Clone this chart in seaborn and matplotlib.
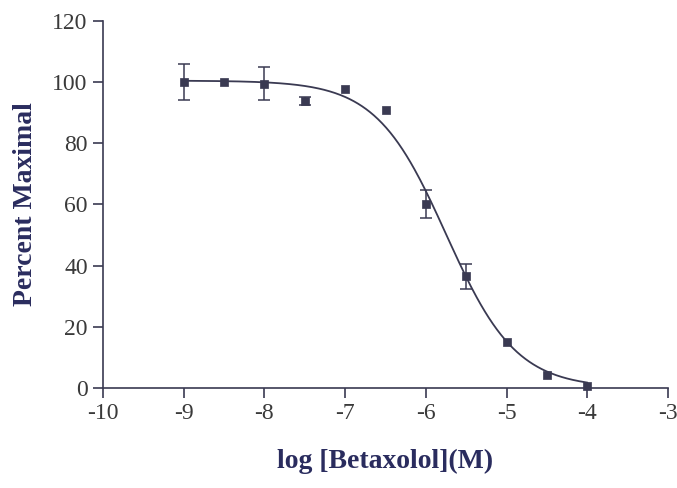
import numpy as np
import matplotlib
matplotlib.use("Agg")
import matplotlib.pyplot as plt
import seaborn as sns
import pandas as pd

sns.set_theme(style="ticks")
plt.rcParams["font.family"] = ["Liberation Serif", "DejaVu Serif"]

# Betaxolol concentration-response data
log_conc = [-9.0, -8.5, -8.0, -7.5, -7.0, -6.5, -6.0, -5.5, -5.0, -4.5, -4.0]
percent_max = [100.0, 100.0, 99.5, 93.8, 97.8, 90.9, 60.2, 36.5, 15.0, 4.2, 0.5]
sem = [6.0, 0.0, 5.5, 1.2, 0.0, 0.0, 4.5, 4.0, 0.0, 0.0, 0.0]

# Four-parameter logistic fit parameters
fit_top = 100.5
fit_bottom = 0.0
fit_log_ic50 = -5.75
fit_hill = 1.0

x_ticks = [-10, -9, -8, -7, -6, -5, -4, -3]
y_ticks = [0, 20, 40, 60, 80, 100, 120]

ink = "#3a3a52"
label_color = "#2a2c5e"

df = pd.DataFrame({"logc": log_conc, "resp": percent_max, "sem": sem})
xc = np.linspace(-9.0, -4.0, 300)
yc = fit_bottom + (fit_top - fit_bottom) / (1 + 10 ** ((xc - fit_log_ic50) * fit_hill))
curve = pd.DataFrame({"logc": xc, "resp": yc})

fig = plt.figure(figsize=(6.77, 4.88), dpi=100)
ax = fig.add_axes([0.152, 0.205, 0.835, 0.752])

sns.lineplot(data=curve, x="logc", y="resp", ax=ax, color=ink, linewidth=1.3)
err = df[df["sem"] > 0]
ax.errorbar(err["logc"], err["resp"], yerr=err["sem"], fmt="none", ecolor=ink,
            elinewidth=1.1, capsize=4, capthick=1.1, clip_on=False, zorder=3)
sns.scatterplot(data=df, x="logc", y="resp", ax=ax, marker="s", s=36,
                color=ink, edgecolor=ink, linewidth=0.5, zorder=4, clip_on=False)

ax.set_xlim(-10, -3)
ax.set_ylim(0, 120)
ax.set_xticks(x_ticks)
ax.set_yticks(y_ticks)
ax.set_xticklabels([str(t) for t in x_ticks])
ax.set_yticklabels([str(t) for t in y_ticks])
sns.despine(ax=ax)
for s in ("left", "bottom"):
    ax.spines[s].set_color(ink)
    ax.spines[s].set_linewidth(1.2)
ax.tick_params(axis="both", direction="out", length=7, width=1.2, color=ink,
               labelsize=17, labelcolor="#3a3a3a", pad=4)

ax.set_xlabel("log [Betaxolol](M)", fontsize=20, fontweight="bold",
              color=label_color, labelpad=18)
ax.set_ylabel("Percent Maximal", fontsize=20, fontweight="bold",
              color=label_color, labelpad=10)

fig.savefig("out.png", dpi=100, facecolor="white")
